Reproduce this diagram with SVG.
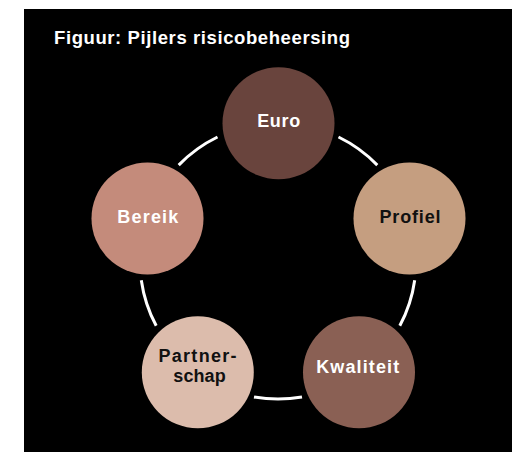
<svg xmlns="http://www.w3.org/2000/svg" width="512" height="452" viewBox="0 0 512 452">
  <style>
    .lbl { font-family: "Liberation Sans", Arial, sans-serif; font-weight: bold; font-size: 18px; text-anchor: middle; }
    .lt { fill: #ffffff; }
    .dk { fill: #111111; }
    .title { font-family: "Liberation Sans", Arial, sans-serif; font-weight: bold; font-size: 18.5px; fill: #ffffff; }
    .arc { fill: none; stroke: #ffffff; stroke-width: 3; stroke-linecap: butt; }
  </style>
  <rect x="0" y="0" width="512" height="452" fill="#ffffff"/>
  <rect x="24" y="9" width="488" height="443" fill="#000000"/>
  <text class="title" x="54" y="43.5" textLength="296" lengthAdjust="spacing">Figuur: Pijlers risicobeheersing</text>

  <g id="connectors">
    <path class="arc" d="M338.5,137.0 A138,138 0 0 1 377.3,165.1"/>
    <path class="arc" d="M414.7,280.2 A138,138 0 0 1 399.8,325.8"/>
    <path class="arc" d="M302.0,396.9 A138,138 0 0 1 254.0,396.9"/>
    <path class="arc" d="M156.2,325.8 A138,138 0 0 1 141.3,280.2"/>
    <path class="arc" d="M178.7,165.1 A138,138 0 0 1 217.5,137.0"/>
  </g>

  <g id="node-euro">
    <circle cx="278.5" cy="123.3" r="56" fill="#69443d"/>
    <text class="lbl lt" x="278.7" y="126.7" textLength="43" lengthAdjust="spacing">Euro</text>
  </g>
  <g id="node-profiel">
    <circle cx="409.5" cy="218.4" r="56" fill="#c59e80"/>
    <text class="lbl dk" x="410" y="222.7" textLength="61" lengthAdjust="spacing">Profiel</text>
  </g>
  <g id="node-kwaliteit">
    <circle cx="359" cy="372.3" r="56" fill="#8a6054"/>
    <text class="lbl lt" x="357.7" y="373" textLength="83" lengthAdjust="spacing">Kwaliteit</text>
  </g>
  <g id="node-partnerschap">
    <circle cx="197.8" cy="372.3" r="56" fill="#dcbcac"/>
    <text class="lbl dk" x="197.5" y="361.7" textLength="78" lengthAdjust="spacing">Partner-</text>
    <text class="lbl dk" x="199.5" y="381.7" textLength="52.5" lengthAdjust="spacing">schap</text>
  </g>
  <g id="node-bereik">
    <circle cx="147.5" cy="218.4" r="56" fill="#c48b7b"/>
    <text class="lbl lt" x="147.8" y="222.7" textLength="61" lengthAdjust="spacing">Bereik</text>
  </g>
</svg>
